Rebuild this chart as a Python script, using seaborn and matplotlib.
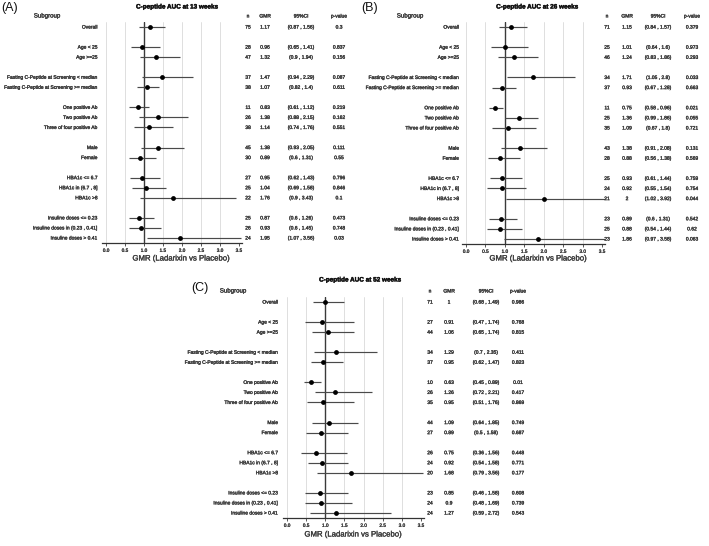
import numpy as np
import pandas as pd
import matplotlib
matplotlib.use("Agg")
import matplotlib.pyplot as plt
import matplotlib.patheffects as pe
import seaborn as sns
from matplotlib import font_manager, transforms

# ---------------- data ----------------
subgroups = ["Overall", "Age < 25", "Age >=25",
             "Fasting C-Peptide at Screening < median",
             "Fasting C-Peptide at Screening >= median",
             "One positive Ab", "Two positive Ab", "Three of four positive Ab",
             "Male", "Female",
             "HBA1c <= 6.7", "HBA1c in (6.7 , 8]", "HBA1c >8",
             "Insuline doses <= 0.23", "Insuline doses in (0.23 , 0.41]",
             "Insuline doses > 0.41"]
group_sizes = [1, 2, 2, 3, 2, 3, 3]

titles = ["C-peptide AUC at 13 weeks", "C-peptide AUC at 26 weeks",
          "C-peptide AUC at 52 weeks"]
tags = ["(A)", "(B)", "(C)"]
col_headers = ["n", "GMR", "95%CI", "p-value"]
xticks = [0.0, 0.5, 1.0, 1.5, 2.0, 2.5, 3.0, 3.5]
xlabel = "GMR (Ladarixin vs Placebo)"

n13 = [75, 28, 47, 37, 38, 11, 26, 38, 45, 30, 27, 25, 22, 25, 26, 24]
gmr13 = [1.17, 0.96, 1.32, 1.47, 1.07, 0.83, 1.38, 1.14, 1.38, 0.89, 0.95, 1.04, 1.76, 0.87, 0.93, 1.95]
lo13 = [0.87, 0.65, 0.9, 0.94, 0.82, 0.61, 0.88, 0.74, 0.93, 0.6, 0.62, 0.69, 0.9, 0.6, 0.6, 1.07]
hi13 = [1.56, 1.41, 1.94, 2.29, 1.4, 1.12, 2.15, 1.76, 2.05, 1.31, 1.43, 1.58, 3.43, 1.26, 1.45, 3.56]
p13 = [0.3, 0.837, 0.156, 0.087, 0.611, 0.219, 0.162, 0.551, 0.111, 0.55, 0.796, 0.846, 0.1, 0.473, 0.748, 0.03]

n26 = [71, 25, 46, 34, 37, 11, 25, 35, 43, 28, 25, 24, 21, 23, 25, 23]
gmr26 = [1.15, 1.01, 1.24, 1.71, 0.93, 0.75, 1.36, 1.09, 1.38, 0.88, 0.93, 0.92, 2, 0.89, 0.88, 1.86]
lo26 = [0.84, 0.64, 0.83, 1.05, 0.67, 0.58, 0.99, 0.67, 0.91, 0.56, 0.61, 0.55, 1.02, 0.6, 0.54, 0.97]
hi26 = [1.57, 1.6, 1.86, 2.8, 1.28, 0.96, 1.86, 1.8, 2.08, 1.38, 1.44, 1.54, 3.92, 1.31, 1.44, 3.58]
p26 = [0.379, 0.973, 0.293, 0.033, 0.663, 0.021, 0.055, 0.721, 0.131, 0.569, 0.759, 0.754, 0.044, 0.542, 0.62, 0.063]

n52 = [71, 27, 44, 34, 37, 10, 26, 35, 44, 27, 26, 24, 20, 23, 24, 24]
gmr52 = [1, 0.91, 1.06, 1.29, 0.95, 0.63, 1.26, 0.95, 1.09, 0.89, 0.75, 0.92, 1.68, 0.85, 0.9, 1.27]
lo52 = [0.68, 0.47, 0.65, 0.7, 0.62, 0.45, 0.72, 0.51, 0.64, 0.5, 0.36, 0.54, 0.79, 0.46, 0.48, 0.59]
hi52 = [1.49, 1.74, 1.74, 2.35, 1.47, 0.89, 2.21, 1.76, 1.85, 1.58, 1.56, 1.58, 3.56, 1.58, 1.69, 2.72]
p52 = [0.986, 0.768, 0.815, 0.411, 0.823, 0.01, 0.417, 0.869, 0.749, 0.687, 0.448, 0.771, 0.177, 0.608, 0.739, 0.543]

# ---------------- style ----------------
sns.set_theme(style="white")
names = {f.name for f in font_manager.fontManager.ttflist}
if "Liberation Sans Narrow" in names:
    FAM = ["Liberation Sans Narrow", "DejaVu Sans"]
    K = 1.0 / 0.82
else:
    FAM = ["Liberation Sans", "DejaVu Sans"]
    K = 1.0
plt.rcParams["font.family"] = FAM
FS = 3.55 * K        # row labels / table
FS_TICK = 3.4 * K
FS_HEAD = 4.4 * K
FS_TITLE = 4.6 * K
FS_XLAB = 5.6 * K
TXT = "#3c3c3c"
STROKE = [pe.withStroke(linewidth=0.25, foreground=TXT)]
STROKE_T = [pe.withStroke(linewidth=0.22, foreground="#3c3c3c")]
STROKE_B = [pe.withStroke(linewidth=0.3, foreground="#111111")]

W, H = 709, 546
fig = plt.figure(figsize=(W / 100, H / 100), dpi=100)
fig.patch.set_facecolor("white")

def fx(px):
    return px / W

def fy(py):
    return 1 - py / H

# rows with blank gap between groups
rows = []
r = 0
for g in group_sizes:
    rows.extend(range(r, r + g))
    r += g + 1
nrows_total = r - 1

panels = [
    dict(n=n13, g=gmr13, lo=lo13, hi=hi13, p=p13, x0=106, ppu=38.0, top=22, bot=243,
         lab_r=97.5, head_x=47, head_y=16, title=(177, 7), tag=(1, 8), xlab=(181, 259),
         cols=(248, 265, 301, 339)),
    dict(n=n26, g=gmr26, lo=lo26, hi=hi26, p=p26, x0=466, ppu=38.9, top=22, bot=244,
         lab_r=459, head_x=410, head_y=16, title=(537, 7), tag=(361, 8), xlab=(538, 259),
         cols=(607, 627, 658, 692)),
    dict(n=n52, g=gmr52, lo=lo52, hi=hi52, p=p52, x0=287, ppu=38.3, top=297, bot=518,
         lab_r=278, head_x=233, head_y=291, title=(360, 280), tag=(191, 288), xlab=(353, 535),
         cols=(430, 449, 486, 518)),
]

XMIN, XMAX = -0.1, 3.58
for i, P in enumerate(panels):
    left_px = P["x0"] + XMIN * P["ppu"]
    width_px = (XMAX - XMIN) * P["ppu"]
    ax = fig.add_axes([fx(left_px), fy(P["bot"]), width_px / W, (P["bot"] - P["top"]) / H])
    ax.set_facecolor("none")
    df = pd.DataFrame({"sub": subgroups, "row": rows, "n": P["n"], "gmr": P["g"],
                       "lo": P["lo"], "hi": P["hi"], "p": P["p"]})
    for v in xticks:
        if v == 1.0:
            ax.axvline(v, color="#3a3a3a", lw=1.0, zorder=1)
        elif v < 3.5:
            ax.axvline(v, color="#d9d9d9", lw=0.6, zorder=0)
    ax.hlines(df["row"], df["lo"], df["hi"], color="#4a4a4a", lw=0.85, zorder=2)
    sns.scatterplot(data=df, x="gmr", y="row", ax=ax, color="black", s=12,
                    linewidth=0, zorder=3, legend=False)
    ax.set_xlim(XMIN, XMAX)
    ax.set_ylim(nrows_total - 0.5, -0.5)
    ax.set_xlabel("")
    ax.set_ylabel("")
    ax.set_yticks([])
    ax.set_xticks(xticks)
    ax.set_xticklabels([f"{v:.1f}" for v in xticks])
    ax.tick_params(axis="x", length=2, width=0.6, pad=1.5, labelsize=FS_TICK,
                   colors="#3c3c3c", bottom=True)
    for lab in ax.get_xticklabels():
        lab.set_path_effects(STROKE_T)
    for s in ["left", "top", "right"]:
        ax.spines[s].set_visible(False)
    ax.spines["bottom"].set_color("#333333")
    ax.spines["bottom"].set_linewidth(0.9)

    tr = transforms.blended_transform_factory(fig.transFigure, ax.transData)
    for _, row in df.iterrows():
        y = row["row"]
        ax.text(fx(P["lab_r"]), y, row["sub"], transform=tr, ha="right", va="center",
                fontsize=FS, color=TXT, path_effects=STROKE)
        vals = [f"{int(row['n'])}", f"{row['gmr']:g}",
                f"({row['lo']:g} , {row['hi']:g})", f"{row['p']:g}"]
        for cx, t in zip(P["cols"], vals):
            ax.text(fx(cx), y, t, transform=tr, ha="center", va="center",
                    fontsize=FS, color=TXT, path_effects=STROKE)
    fig.text(fx(P["head_x"]), fy(P["head_y"]), "Subgroup", ha="center", va="center",
             fontsize=FS_HEAD, color=TXT, path_effects=STROKE)
    for cx, t in zip(P["cols"], col_headers):
        fig.text(fx(cx), fy(P["head_y"]), t, ha="center", va="center",
                 fontsize=FS, color=TXT, path_effects=STROKE)
    fig.text(fx(P["title"][0]), fy(P["title"][1]), titles[i], ha="center", va="center",
             fontsize=FS_TITLE, fontweight="bold", color="#111111", path_effects=STROKE_B)
    fig.text(fx(P["tag"][0]), fy(P["tag"][1]), tags[i], ha="left", va="center",
             fontsize=9, color="#111111", family=["Liberation Sans", "DejaVu Sans"])
    fig.text(fx(P["xlab"][0]), fy(P["xlab"][1]), xlabel, ha="center", va="center",
             fontsize=FS_XLAB, color=TXT, path_effects=STROKE_T)

fig.savefig("out.png", dpi=100, facecolor="white")
